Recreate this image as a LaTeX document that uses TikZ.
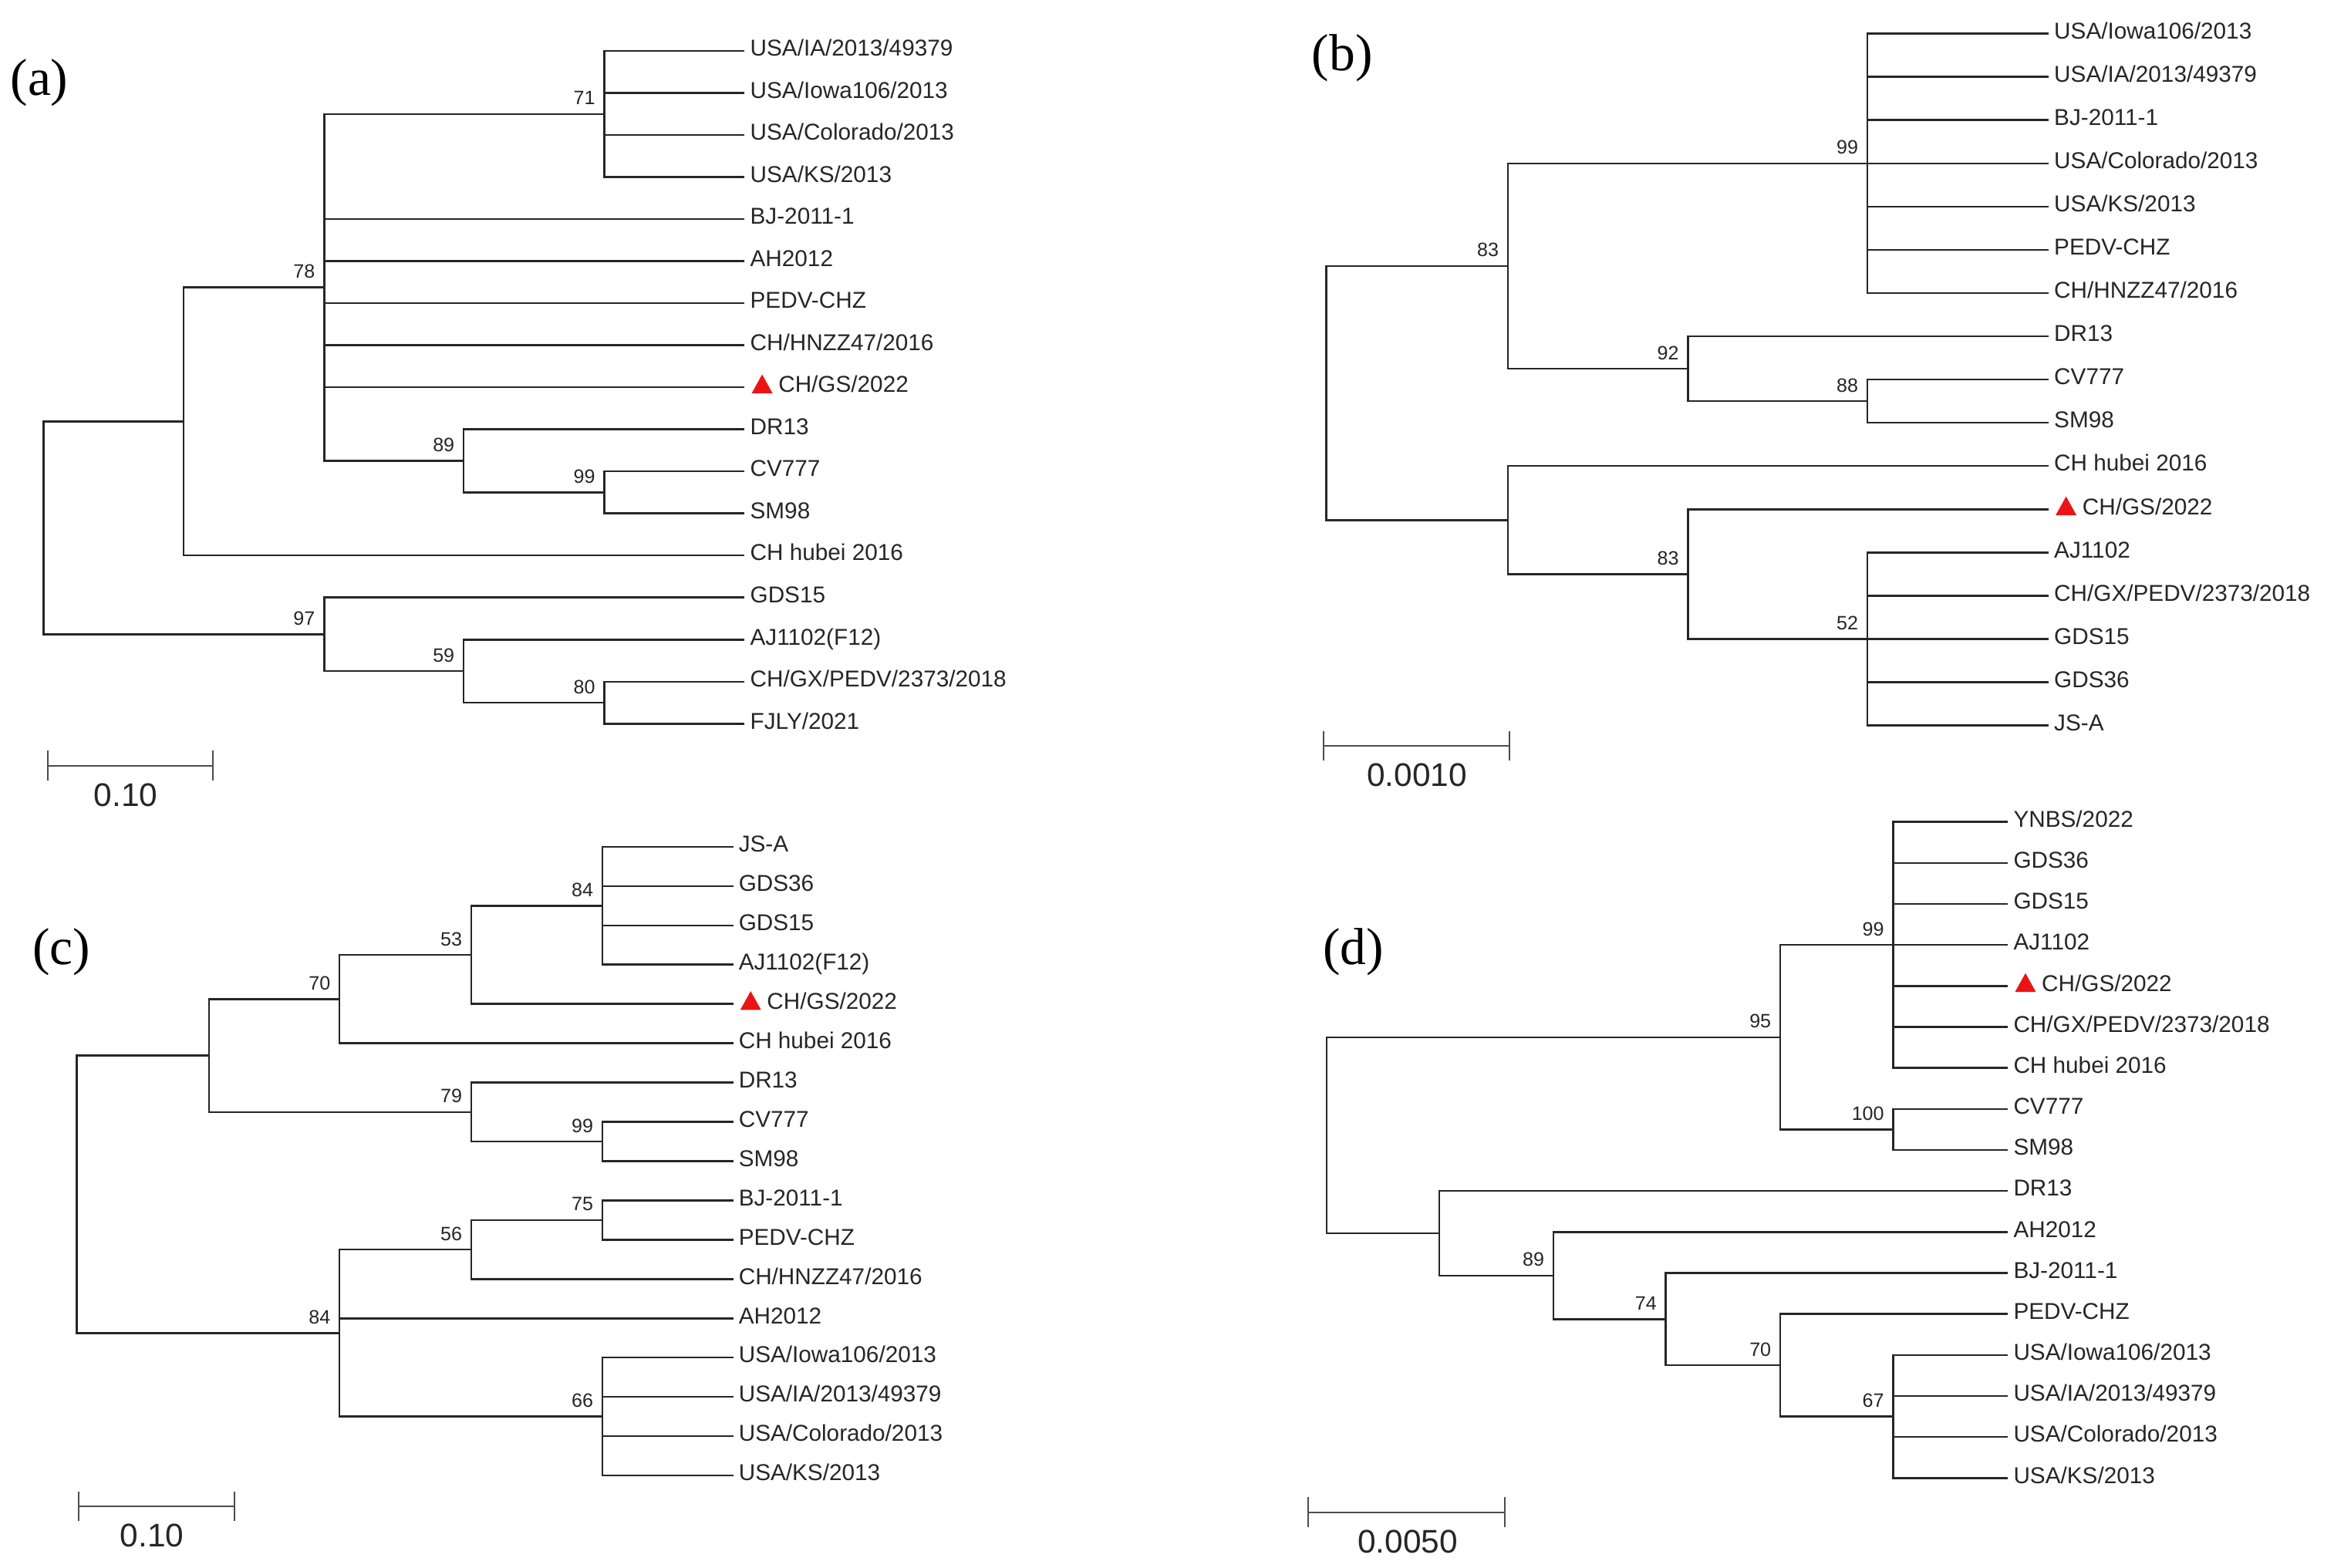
\documentclass[tikz,border=0pt]{standalone}
\usepackage{fontspec}
\setmainfont{Liberation Sans}
\newfontfamily\panelfont{Liberation Serif}
\newcommand\mkleaf[3]{%
  \coordinate (#1) at (\LX,{\Yo+\Dy*#2});
  \node[leaflab] (#1t) at (#1) {#3};}
\newcommand\mkgs[2]{%
  \coordinate (#1) at (\LX,{\Yo+\Dy*#2});
  \fill[mkred] ([xshift=2.7pt,yshift=-2pt]#1) -- ++(7pt,0pt) -- ++(-3.5pt,6.3pt) -- cycle;
  \node[leaflab,xshift=9.5pt] (#1t) at (#1) {CH/GS/2022};}
\newcommand\mknode[4]{%
  \coordinate (#1) at (#2,{\Yo+\Dy*#3});
  \node[boot] (#1l) at (#1) {#4};}
\newcommand\mkbar[6]{%
  \coordinate (#1l) at (#2,#4);
  \coordinate (#1r) at (#3,#4);
  \draw[sbar] (#1l) -- (#1r);
  \draw[sbar] ([yshift=5pt]#1l) -- ([yshift=-5pt]#1l);
  \draw[sbar] ([yshift=5pt]#1r) -- ([yshift=-5pt]#1r);
  \node[sblab] (#1t) at (#5,{#4+27.2}) {#6};}
\definecolor{mkred}{RGB}{235,20,20}
\begin{document}
\begin{tikzpicture}[x=0.5pt,y=-0.5pt,
  br/.style={draw=black!85,line width=0.65pt,line cap=rect},
  sbar/.style={draw=black!70,line width=0.55pt},
  leaflab/.style={anchor=base west,inner sep=0pt,xshift=2pt,yshift=-1.75pt,font=\fontsize{7.7}{9}\selectfont,text=black!85},
  boot/.style={anchor=base east,inner sep=0pt,xshift=-2.9pt,yshift=3.1pt,font=\fontsize{6.5}{8}\selectfont,text=black!85},
  sblab/.style={anchor=base,inner sep=0pt,font=\fontsize{11}{13}\selectfont,text=black!85},
  plab/.style={anchor=base west,inner sep=0pt,font=\panelfont\fontsize{17.5}{20}\selectfont,text=black}]
\useasboundingbox[fill=white] (0,0) rectangle (1568,1053);

% ---------------- panel (a)
\def\Yo{34.2}\def\Dy{28.25}\def\LX{499.6}
\node[plab] (pa) at (6.6,63.8) {(a)};
\mkleaf{a0}{0}{USA/IA/2013/49379}
\mkleaf{a1}{1}{USA/Iowa106/2013}
\mkleaf{a2}{2}{USA/Colorado/2013}
\mkleaf{a3}{3}{USA/KS/2013}
\mkleaf{a4}{4}{BJ-2011-1}
\mkleaf{a5}{5}{AH2012}
\mkleaf{a6}{6}{PEDV-CHZ}
\mkleaf{a7}{7}{CH/HNZZ47/2016}
\mkgs{a8}{8}
\mkleaf{a9}{9}{DR13}
\mkleaf{a10}{10}{CV777}
\mkleaf{a11}{11}{SM98}
\mkleaf{a12}{12}{CH hubei 2016}
\mkleaf{a13}{13}{GDS15}
\mkleaf{a14}{14}{AJ1102(F12)}
\mkleaf{a15}{15}{CH/GX/PEDV/2373/2018}
\mkleaf{a16}{16}{FJLY/2021}
\mknode{aN71}{406}{1.5}{71}
\mknode{aN99}{406}{10.5}{99}
\mknode{aN89}{311.5}{9.75}{89}
\mknode{aN78}{217.8}{5.625}{78}
\coordinate (aN1) at (123.3,{\Yo+\Dy*8.8125});
\mknode{aN80}{406}{15.5}{80}
\mknode{aN59}{311.5}{14.75}{59}
\mknode{aN97}{217.8}{13.875}{97}
\coordinate (aR) at (29.2,{\Yo+\Dy*11.34375});
\foreach \c in {a0,a1,a2,a3} \draw[br] (aN71) |- (\c);
\foreach \c in {a10,a11} \draw[br] (aN99) |- (\c);
\foreach \c in {a9,aN99} \draw[br] (aN89) |- (\c);
\foreach \c in {aN71,a4,a5,a6,a7,a8,aN89} \draw[br] (aN78) |- (\c);
\foreach \c in {aN78,a12} \draw[br] (aN1) |- (\c);
\foreach \c in {a15,a16} \draw[br] (aN80) |- (\c);
\foreach \c in {a14,aN80} \draw[br] (aN59) |- (\c);
\foreach \c in {a13,aN59} \draw[br] (aN97) |- (\c);
\foreach \c in {aN1,aN97} \draw[br] (aR) |- (\c);
\mkbar{sa}{32.2}{143}{514.4}{84.6}{0.10}

% ---------------- panel (b)
\def\Yo{22.6}\def\Dy{29.05}\def\LX{1375.6}
\node[plab] (pb) at (881,47.5) {(b)};
\mkleaf{b0}{0}{USA/Iowa106/2013}
\mkleaf{b1}{1}{USA/IA/2013/49379}
\mkleaf{b2}{2}{BJ-2011-1}
\mkleaf{b3}{3}{USA/Colorado/2013}
\mkleaf{b4}{4}{USA/KS/2013}
\mkleaf{b5}{5}{PEDV-CHZ}
\mkleaf{b6}{6}{CH/HNZZ47/2016}
\mkleaf{b7}{7}{DR13}
\mkleaf{b8}{8}{CV777}
\mkleaf{b9}{9}{SM98}
\mkleaf{b10}{10}{CH hubei 2016}
\mkgs{b11}{11}
\mkleaf{b12}{12}{AJ1102}
\mkleaf{b13}{13}{CH/GX/PEDV/2373/2018}
\mkleaf{b14}{14}{GDS15}
\mkleaf{b15}{15}{GDS36}
\mkleaf{b16}{16}{JS-A}
\mknode{bN99}{1254.5}{3}{99}
\mknode{bN88}{1254.5}{8.5}{88}
\mknode{bN92}{1134}{7.75}{92}
\mknode{bN83a}{1013}{5.375}{83}
\mknode{bN52}{1254.5}{14}{52}
\mknode{bN83b}{1134}{12.5}{83}
\coordinate (bN1) at (1013,{\Yo+\Dy*11.25});
\coordinate (bR) at (891,{\Yo+\Dy*8.3125});
\foreach \c in {b0,b1,b2,b3,b4,b5,b6} \draw[br] (bN99) |- (\c);
\foreach \c in {b8,b9} \draw[br] (bN88) |- (\c);
\foreach \c in {b7,bN88} \draw[br] (bN92) |- (\c);
\foreach \c in {bN99,bN92} \draw[br] (bN83a) |- (\c);
\foreach \c in {b12,b13,b14,b15,b16} \draw[br] (bN52) |- (\c);
\foreach \c in {b11,bN52} \draw[br] (bN83b) |- (\c);
\foreach \c in {b10,bN83b} \draw[br] (bN1) |- (\c);
\foreach \c in {bN83a,bN1} \draw[br] (bR) |- (\c);
\mkbar{sb}{889}{1014}{501}{952}{0.0010}

% ---------------- panel (c)
\def\Yo{568.9}\def\Dy{26.4}\def\LX{491.9}
\node[plab] (pc) at (21.6,647.8) {(c)};
\mkleaf{c0}{0}{JS-A}
\mkleaf{c1}{1}{GDS36}
\mkleaf{c2}{2}{GDS15}
\mkleaf{c3}{3}{AJ1102(F12)}
\mkgs{c4}{4}
\mkleaf{c5}{5}{CH hubei 2016}
\mkleaf{c6}{6}{DR13}
\mkleaf{c7}{7}{CV777}
\mkleaf{c8}{8}{SM98}
\mkleaf{c9}{9}{BJ-2011-1}
\mkleaf{c10}{10}{PEDV-CHZ}
\mkleaf{c11}{11}{CH/HNZZ47/2016}
\mkleaf{c12}{12}{AH2012}
\mkleaf{c13}{13}{USA/Iowa106/2013}
\mkleaf{c14}{14}{USA/IA/2013/49379}
\mkleaf{c15}{15}{USA/Colorado/2013}
\mkleaf{c16}{16}{USA/KS/2013}
\mknode{cN84a}{404.7}{1.5}{84}
\mknode{cN53}{316.6}{2.75}{53}
\mknode{cN70}{228.1}{3.875}{70}
\mknode{cN99}{404.7}{7.5}{99}
\mknode{cN79}{316.6}{6.75}{79}
\coordinate (cN1) at (140.5,{\Yo+\Dy*5.3125});
\mknode{cN75}{404.7}{9.5}{75}
\mknode{cN56}{316.6}{10.25}{56}
\mknode{cN66}{404.7}{14.5}{66}
\mknode{cN84b}{228.1}{12.375}{84}
\coordinate (cR) at (51.6,{\Yo+\Dy*8.84375});
\foreach \c in {c0,c1,c2,c3} \draw[br] (cN84a) |- (\c);
\foreach \c in {cN84a,c4} \draw[br] (cN53) |- (\c);
\foreach \c in {cN53,c5} \draw[br] (cN70) |- (\c);
\foreach \c in {c7,c8} \draw[br] (cN99) |- (\c);
\foreach \c in {c6,cN99} \draw[br] (cN79) |- (\c);
\foreach \c in {cN70,cN79} \draw[br] (cN1) |- (\c);
\foreach \c in {c9,c10} \draw[br] (cN75) |- (\c);
\foreach \c in {cN75,c11} \draw[br] (cN56) |- (\c);
\foreach \c in {c13,c14,c15,c16} \draw[br] (cN66) |- (\c);
\foreach \c in {cN56,c12,cN66} \draw[br] (cN84b) |- (\c);
\foreach \c in {cN1,cN84b} \draw[br] (cR) |- (\c);
\mkbar{sc}{52.8}{157.3}{1011.9}{102.2}{0.10}

% ---------------- panel (d)
\def\Yo{552.2}\def\Dy{27.55}\def\LX{1348.3}
\node[plab] (pd) at (888.4,647.8) {(d)};
\mkleaf{d0}{0}{YNBS/2022}
\mkleaf{d1}{1}{GDS36}
\mkleaf{d2}{2}{GDS15}
\mkleaf{d3}{3}{AJ1102}
\mkgs{d4}{4}
\mkleaf{d5}{5}{CH/GX/PEDV/2373/2018}
\mkleaf{d6}{6}{CH hubei 2016}
\mkleaf{d7}{7}{CV777}
\mkleaf{d8}{8}{SM98}
\mkleaf{d9}{9}{DR13}
\mkleaf{d10}{10}{AH2012}
\mkleaf{d11}{11}{BJ-2011-1}
\mkleaf{d12}{12}{PEDV-CHZ}
\mkleaf{d13}{13}{USA/Iowa106/2013}
\mkleaf{d14}{14}{USA/IA/2013/49379}
\mkleaf{d15}{15}{USA/Colorado/2013}
\mkleaf{d16}{16}{USA/KS/2013}
\mknode{dN99}{1271.9}{3}{99}
\mknode{dN100}{1271.9}{7.5}{100}
\mknode{dN95}{1196}{5.25}{95}
\mknode{dN67}{1271.9}{14.5}{67}
\mknode{dN70}{1196}{13.25}{70}
\mknode{dN74}{1119.1}{12.125}{74}
\mknode{dN89}{1043.6}{11.0625}{89}
\coordinate (dN1) at (966.8,{\Yo+\Dy*10.03125});
\coordinate (dR) at (891.3,{\Yo+\Dy*7.640625});
\foreach \c in {d0,d1,d2,d3,d4,d5,d6} \draw[br] (dN99) |- (\c);
\foreach \c in {d7,d8} \draw[br] (dN100) |- (\c);
\foreach \c in {dN99,dN100} \draw[br] (dN95) |- (\c);
\foreach \c in {d13,d14,d15,d16} \draw[br] (dN67) |- (\c);
\foreach \c in {d12,dN67} \draw[br] (dN70) |- (\c);
\foreach \c in {d11,dN70} \draw[br] (dN74) |- (\c);
\foreach \c in {d10,dN74} \draw[br] (dN89) |- (\c);
\foreach \c in {d9,dN89} \draw[br] (dN1) |- (\c);
\foreach \c in {dN95,dN1} \draw[br] (dR) |- (\c);
\mkbar{sd}{879}{1010.9}{1016}{945.8}{0.0050}
\end{tikzpicture}
\end{document}
